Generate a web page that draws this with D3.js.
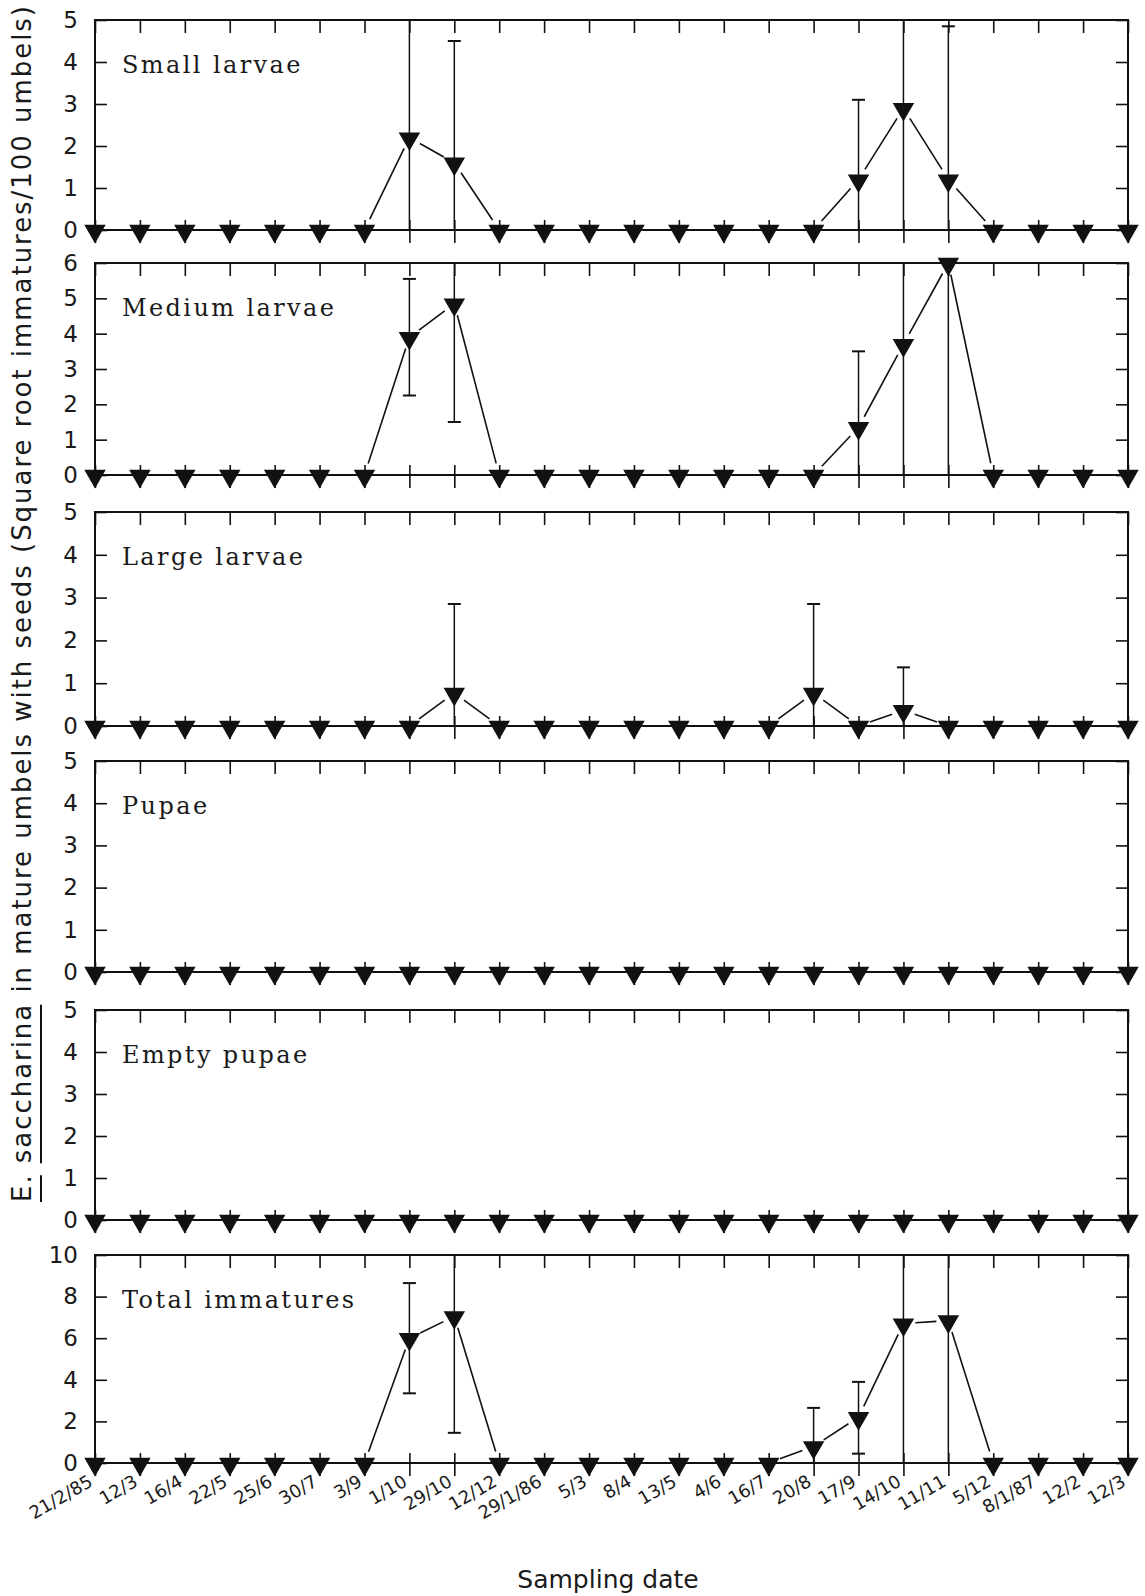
<!DOCTYPE html>
<html lang="en">
<head>
<meta charset="UTF-8"/>
<script src="https://d3js.org/d3.v7.min.js"></script>
<title>E. saccharina immatures by sampling date</title>
<style>
  body { margin: 0; background: #fff; }
</style>
</head>
<body>
<script type="text/javascript">
// sampling dates (plotted as evenly spaced categories)
var dates = ["21/2/85", "12/3", "16/4", "22/5", "25/6", "30/7", "3/9", "1/10", "29/10", "12/12",
             "29/1/86", "5/3", "8/4", "13/5", "4/6", "16/7", "20/8", "17/9", "14/10", "11/11",
             "5/12", "8/1/87", "12/2", "12/3"];

var panelNames = ["Small larvae", "Medium larvae", "Large larvae", "Pupae", "Empty pupae", "Total immatures"];
var panelMax   = [5, 6, 5, 5, 5, 10];
var panelStep  = [1, 1, 1, 1, 1, 2];

var n = null;
// means, and lower / upper ends of the error bars (null = no bar)
var smallMean  = [0,0,0,0,0,0,0,2.2,1.6,0,0,0,0,0,0,0,0,1.2,2.9,1.2,0,0,0,0];
var smallLow   = [n,n,n,n,n,n,n,0,0,n,n,n,n,n,n,n,n,0,0,0,n,n,n,n];
var smallHigh  = [n,n,n,n,n,n,n,5.6,4.5,n,n,n,n,n,n,n,n,3.1,5.6,4.85,n,n,n,n];

var mediumMean = [0,0,0,0,0,0,0,3.9,4.85,0,0,0,0,0,0,0,0,1.35,3.7,6.0,0,0,0,0];
var mediumLow  = [n,n,n,n,n,n,n,2.25,1.5,n,n,n,n,n,n,n,n,0,0,0,n,n,n,n];
var mediumHigh = [n,n,n,n,n,n,n,5.55,6.6,n,n,n,n,n,n,n,n,3.5,6.6,6.6,n,n,n,n];

var largeMean  = [0,0,0,0,0,0,0,0,0.77,0,0,0,0,0,0,0,0.77,0,0.37,0,0,0,0,0];
var largeLow   = [n,n,n,n,n,n,n,n,0,n,n,n,n,n,n,n,0,n,0,n,n,n,n,n];
var largeHigh  = [n,n,n,n,n,n,n,n,2.85,n,n,n,n,n,n,n,2.85,n,1.37,n,n,n,n,n];

var pupaeMean  = [0,0,0,0,0,0,0,0,0,0,0,0,0,0,0,0,0,0,0,0,0,0,0,0];
var emptyMean  = [0,0,0,0,0,0,0,0,0,0,0,0,0,0,0,0,0,0,0,0,0,0,0,0];
var noBars     = [n,n,n,n,n,n,n,n,n,n,n,n,n,n,n,n,n,n,n,n,n,n,n,n];

var totalMean  = [0,0,0,0,0,0,0,6.0,7.05,0,0,0,0,0,0,0,0.8,2.2,6.7,6.85,0,0,0,0];
var totalLow   = [n,n,n,n,n,n,n,3.35,1.45,n,n,n,n,n,n,n,0,0.45,0,0,n,n,n,n];
var totalHigh  = [n,n,n,n,n,n,n,8.65,11,n,n,n,n,n,n,n,2.65,3.9,11,11,n,n,n,n];

var seriesMean = [smallMean, mediumMean, largeMean, pupaeMean, emptyMean, totalMean];
var seriesLow  = [smallLow, mediumLow, largeLow, noBars, noBars, totalLow];
var seriesHigh = [smallHigh, mediumHigh, largeHigh, noBars, noBars, totalHigh];

// layout
var w = 1145, h = 1596;
var left = 95, right = 1128;
var tops    = [20, 263, 512, 761, 1010, 1255];
var bottoms = [230, 475, 726, 972, 1220, 1463];
var ink = "#111";

var svg = d3.select("body").append("svg")
            .attr("width", w)
            .attr("height", h)
            .style("font-family", "'DejaVu Sans', sans-serif");

var xScale = d3.scalePoint()
               .domain(d3.range(dates.length))
               .range([left, right]);

var tri = d3.symbol().type(d3.symbolTriangle).size(200);

panelNames.forEach(function(name, p) {
    var yScale = d3.scaleLinear()
                   .domain([0, panelMax[p]])
                   .range([bottoms[p], tops[p]])
                   .clamp(true);
    var ticks = d3.range(0, panelMax[p] + 0.001, panelStep[p]);
    var g = svg.append("g");

    // left axis, ticks pointing in
    var yl = g.append("g")
              .attr("transform", "translate(" + left + ",0)")
              .call(d3.axisLeft(yScale).tickValues(ticks).tickFormat(d3.format("d"))
                      .tickSize(-12).tickPadding(17).tickSizeOuter(0));
    yl.select(".domain").remove();
    yl.selectAll("line").attr("stroke", ink).attr("stroke-width", 1.6);
    yl.selectAll("text")
      .style("font-size", "23px")
      .style("font-family", "'DejaVu Sans', sans-serif")
      .attr("fill", "#1a1a1a");

    // right axis
    var yr = g.append("g")
              .attr("transform", "translate(" + right + ",0)")
              .call(d3.axisRight(yScale).tickValues(ticks).tickSize(-12).tickFormat("").tickSizeOuter(0));
    yr.select(".domain").remove();
    yr.selectAll("line").attr("stroke", ink).attr("stroke-width", 1.6);

    // top axis
    var xt = g.append("g")
              .attr("transform", "translate(0," + tops[p] + ")")
              .call(d3.axisTop(xScale).tickSize(-13).tickFormat("").tickSizeOuter(0));
    xt.select(".domain").remove();
    xt.selectAll("line").attr("stroke", ink).attr("stroke-width", 1.6);

    // bottom axis, ticks crossing the zero line
    var xb = g.append("g")
              .attr("transform", "translate(0," + bottoms[p] + ")")
              .call(d3.axisBottom(xScale).tickSize(13).tickFormat("").tickSizeOuter(0));
    xb.select(".domain").remove();
    xb.selectAll("line").attr("y1", -10).attr("stroke", ink).attr("stroke-width", 1.6);

    // frame
    g.append("rect")
     .attr("x", left).attr("y", tops[p])
     .attr("width", right - left).attr("height", bottoms[p] - tops[p])
     .attr("fill", "none").attr("stroke", ink).attr("stroke-width", 2);

    // panel name
    g.append("text")
     .attr("x", 122)
     .attr("y", tops[p] + 53)
     .style("font-family", "'DejaVu Serif', serif")
     .style("font-size", "24px")
     .style("letter-spacing", "2.4px")
     .attr("fill", "#1a1a1a")
     .text(name);

    var mean = seriesMean[p], low = seriesLow[p], high = seriesHigh[p];

    // error bars
    mean.forEach(function(v, i) {
        if (low[i] === null && high[i] === null) return;
        var x = xScale(i);
        var lo = low[i] === null ? v : low[i];
        var hi = high[i] === null ? v : high[i];
        g.append("line")
         .attr("x1", x).attr("x2", x)
         .attr("y1", yScale(lo)).attr("y2", yScale(hi))
         .attr("stroke", ink).attr("stroke-width", 1.5);
        if (hi <= panelMax[p]) {
            g.append("line")
             .attr("x1", x - 6.5).attr("x2", x + 6.5)
             .attr("y1", yScale(hi)).attr("y2", yScale(hi))
             .attr("stroke", ink).attr("stroke-width", 2);
        }
        if (lo > 0) {
            g.append("line")
             .attr("x1", x - 6.5).attr("x2", x + 6.5)
             .attr("y1", yScale(lo)).attr("y2", yScale(lo))
             .attr("stroke", ink).attr("stroke-width", 2);
        }
    });

    // connecting segments, stopped short of the markers
    var gap = 12;
    for (var i = 0; i < mean.length - 1; i++) {
        var x1 = xScale(i), y1 = yScale(mean[i]);
        var x2 = xScale(i + 1), y2 = yScale(mean[i + 1]);
        var dx = x2 - x1, dy = y2 - y1;
        var len = Math.sqrt(dx * dx + dy * dy);
        var ux = dx / len, uy = dy / len;
        g.append("line")
         .attr("x1", x1 + ux * gap).attr("y1", y1 + uy * gap)
         .attr("x2", x2 - ux * gap).attr("y2", y2 - uy * gap)
         .attr("stroke", ink).attr("stroke-width", 1.6);
    }

    // markers: filled downward triangles
    g.selectAll("path.mark")
     .data(mean)
     .enter()
     .append("path")
     .attr("class", "mark")
     .attr("d", tri)
     .attr("transform", function(d, i) {
         return "translate(" + xScale(i) + "," + (yScale(d) + 1) + ") rotate(180)";
     })
     .attr("fill", ink);
});

// date labels under the bottom panel
var last = bottoms[bottoms.length - 1];
svg.append("g")
   .selectAll("text")
   .data(dates)
   .enter()
   .append("text")
   .attr("text-anchor", "end")
   .attr("transform", function(d, i) {
       return "translate(" + (xScale(i) - 1) + "," + (last + 22) + ") rotate(-30)";
   })
   .style("font-size", "18px")
   .attr("fill", "#1a1a1a")
   .text(function(d) { return d; });

// x axis title
svg.append("text")
   .attr("x", 608)
   .attr("y", 1588)
   .attr("text-anchor", "middle")
   .style("font-size", "25px")
   .attr("fill", "#1a1a1a")
   .text("Sampling date");

// y axis title, species name underlined
var yt = svg.append("g")
            .attr("transform", "translate(31,604) rotate(-90)");
var ytext = yt.append("text")
              .attr("x", 0)
              .attr("y", 0)
              .attr("text-anchor", "middle")
              .attr("textLength", 1196)
              .attr("lengthAdjust", "spacing")
              .style("font-size", "26px")
              .attr("fill", "#1a1a1a")
              .text("E. saccharina in mature umbels with seeds (Square root immatures/100 umbels)");

var node = ytext.node();
var spans = [[0, 1], [3, 12]];   // "E." and "saccharina"
spans.forEach(function(s) {
    var a = node.getStartPositionOfChar(s[0]).x;
    var b = node.getEndPositionOfChar(s[1]).x;
    yt.append("line")
      .attr("x1", a).attr("x2", b)
      .attr("y1", 10).attr("y2", 10)
      .attr("stroke", ink).attr("stroke-width", 2);
});
</script>
</body>
</html>
